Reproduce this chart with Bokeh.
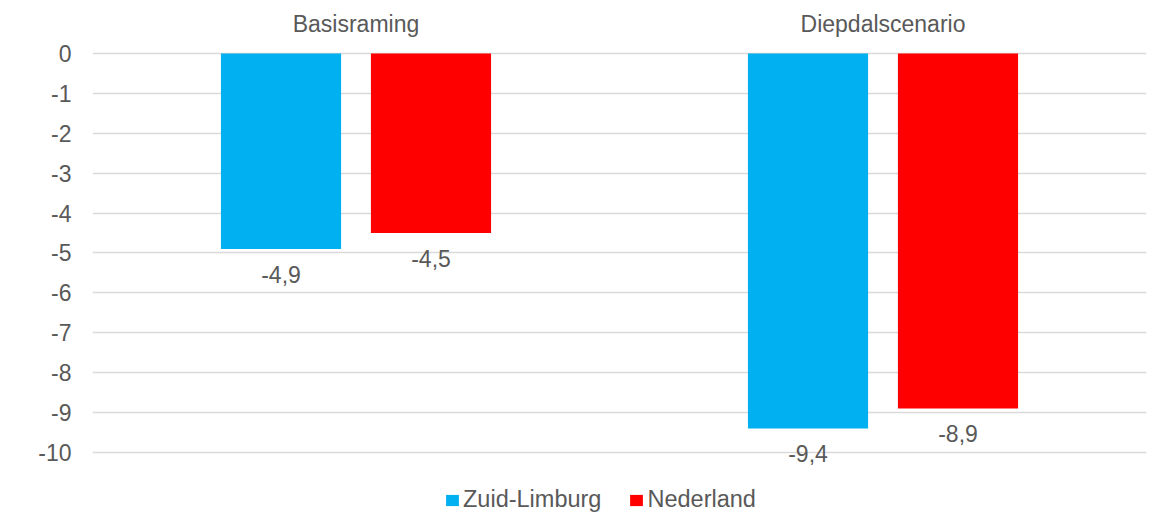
from bokeh.plotting import figure
from bokeh.models import (ColumnDataSource, FactorRange, Range1d, FixedTicker,
                          CategoricalAxis, Legend, LegendItem)
from bokeh.transform import dodge
from bokeh.embed import file_html
from bokeh.resources import INLINE

categories = ["Basisraming", "Diepdalscenario"]
series_names = ["Zuid-Limburg", "Nederland"]
zuid_limburg = [-4.9, -9.4]
nederland = [-4.5, -8.9]
y_ticks = [0, -1, -2, -3, -4, -5, -6, -7, -8, -9, -10]
y_tick_labels = ["0", "-1", "-2", "-3", "-4", "-5", "-6", "-7", "-8", "-9", "-10"]

def fmt(v):
    return ("%.1f" % v).replace(".", ",")

src = ColumnDataSource(dict(
    cat=categories,
    zl=zuid_limburg,
    nl=nederland,
    zl_lab=[fmt(v) for v in zuid_limburg],
    nl_lab=[fmt(v) for v in nederland],
))

FONT = "Liberation Sans"
TXT = "#595959"
FS = "23px"

p = figure(width=1156, height=513, output_backend="svg", toolbar_location=None,
           x_range=FactorRange(*categories), y_range=Range1d(-11.529, 0.376),
           x_axis_location=None, min_border_left=92, min_border_right=10,
           min_border_top=38, min_border_bottom=0)
p.outline_line_color = None
p.xgrid.grid_line_color = None
p.ygrid.grid_line_color = "#D9D9D9"
p.ygrid.grid_line_width = 1.5
p.ygrid.ticker = FixedTicker(ticks=y_ticks)

ax = p.yaxis[0]
ax.ticker = FixedTicker(ticks=y_ticks)
ax.major_label_overrides = dict(zip(y_ticks, y_tick_labels))
ax.axis_line_color = None
ax.major_tick_line_color = None
ax.minor_tick_line_color = None
ax.major_tick_out = 0
ax.major_tick_in = 0
ax.major_label_text_font = FONT
ax.major_label_text_font_size = FS
ax.major_label_text_color = TXT
ax.major_label_standoff = 21

top = CategoricalAxis()
top.axis_line_color = None
top.major_tick_line_color = None
top.minor_tick_line_color = None
top.major_tick_out = 0
top.major_tick_in = 0
top.major_label_text_font = FONT
top.major_label_text_font_size = FS
top.major_label_text_color = TXT
top.major_label_standoff = 2
p.add_layout(top, "above")

off = 0.1423
w = 0.228
r1 = p.vbar(x=dodge("cat", -off, range=p.x_range), top="zl", bottom=0, width=w,
            source=src, fill_color="#00B0F0", line_color=None)
r2 = p.vbar(x=dodge("cat", off, range=p.x_range), top="nl", bottom=0, width=w,
            source=src, fill_color="#FF0000", line_color=None)

for col, lab, o in (("zl", "zl_lab", -off), ("nl", "nl_lab", off)):
    p.text(x=dodge("cat", o, range=p.x_range), y=col, text=lab, source=src,
           text_align="center", text_baseline="middle", y_offset=25,
           text_font={"value": FONT}, text_font_size=FS, text_color=TXT)

legend = Legend(items=[LegendItem(label=series_names[0], renderers=[r1]),
                       LegendItem(label=series_names[1], renderers=[r2])],
                location=(352, 0), orientation="horizontal")
legend.border_line_color = None
legend.background_fill_alpha = 0
legend.label_text_font = FONT
legend.label_text_font_size = "23.5px"
legend.label_text_color = TXT
legend.glyph_width = 16
legend.glyph_height = 14
legend.label_standoff = 3
legend.spacing = 27
legend.padding = 0
legend.margin = 0
p.add_layout(legend)

open("out.html", "w").write(file_html(p, INLINE))
